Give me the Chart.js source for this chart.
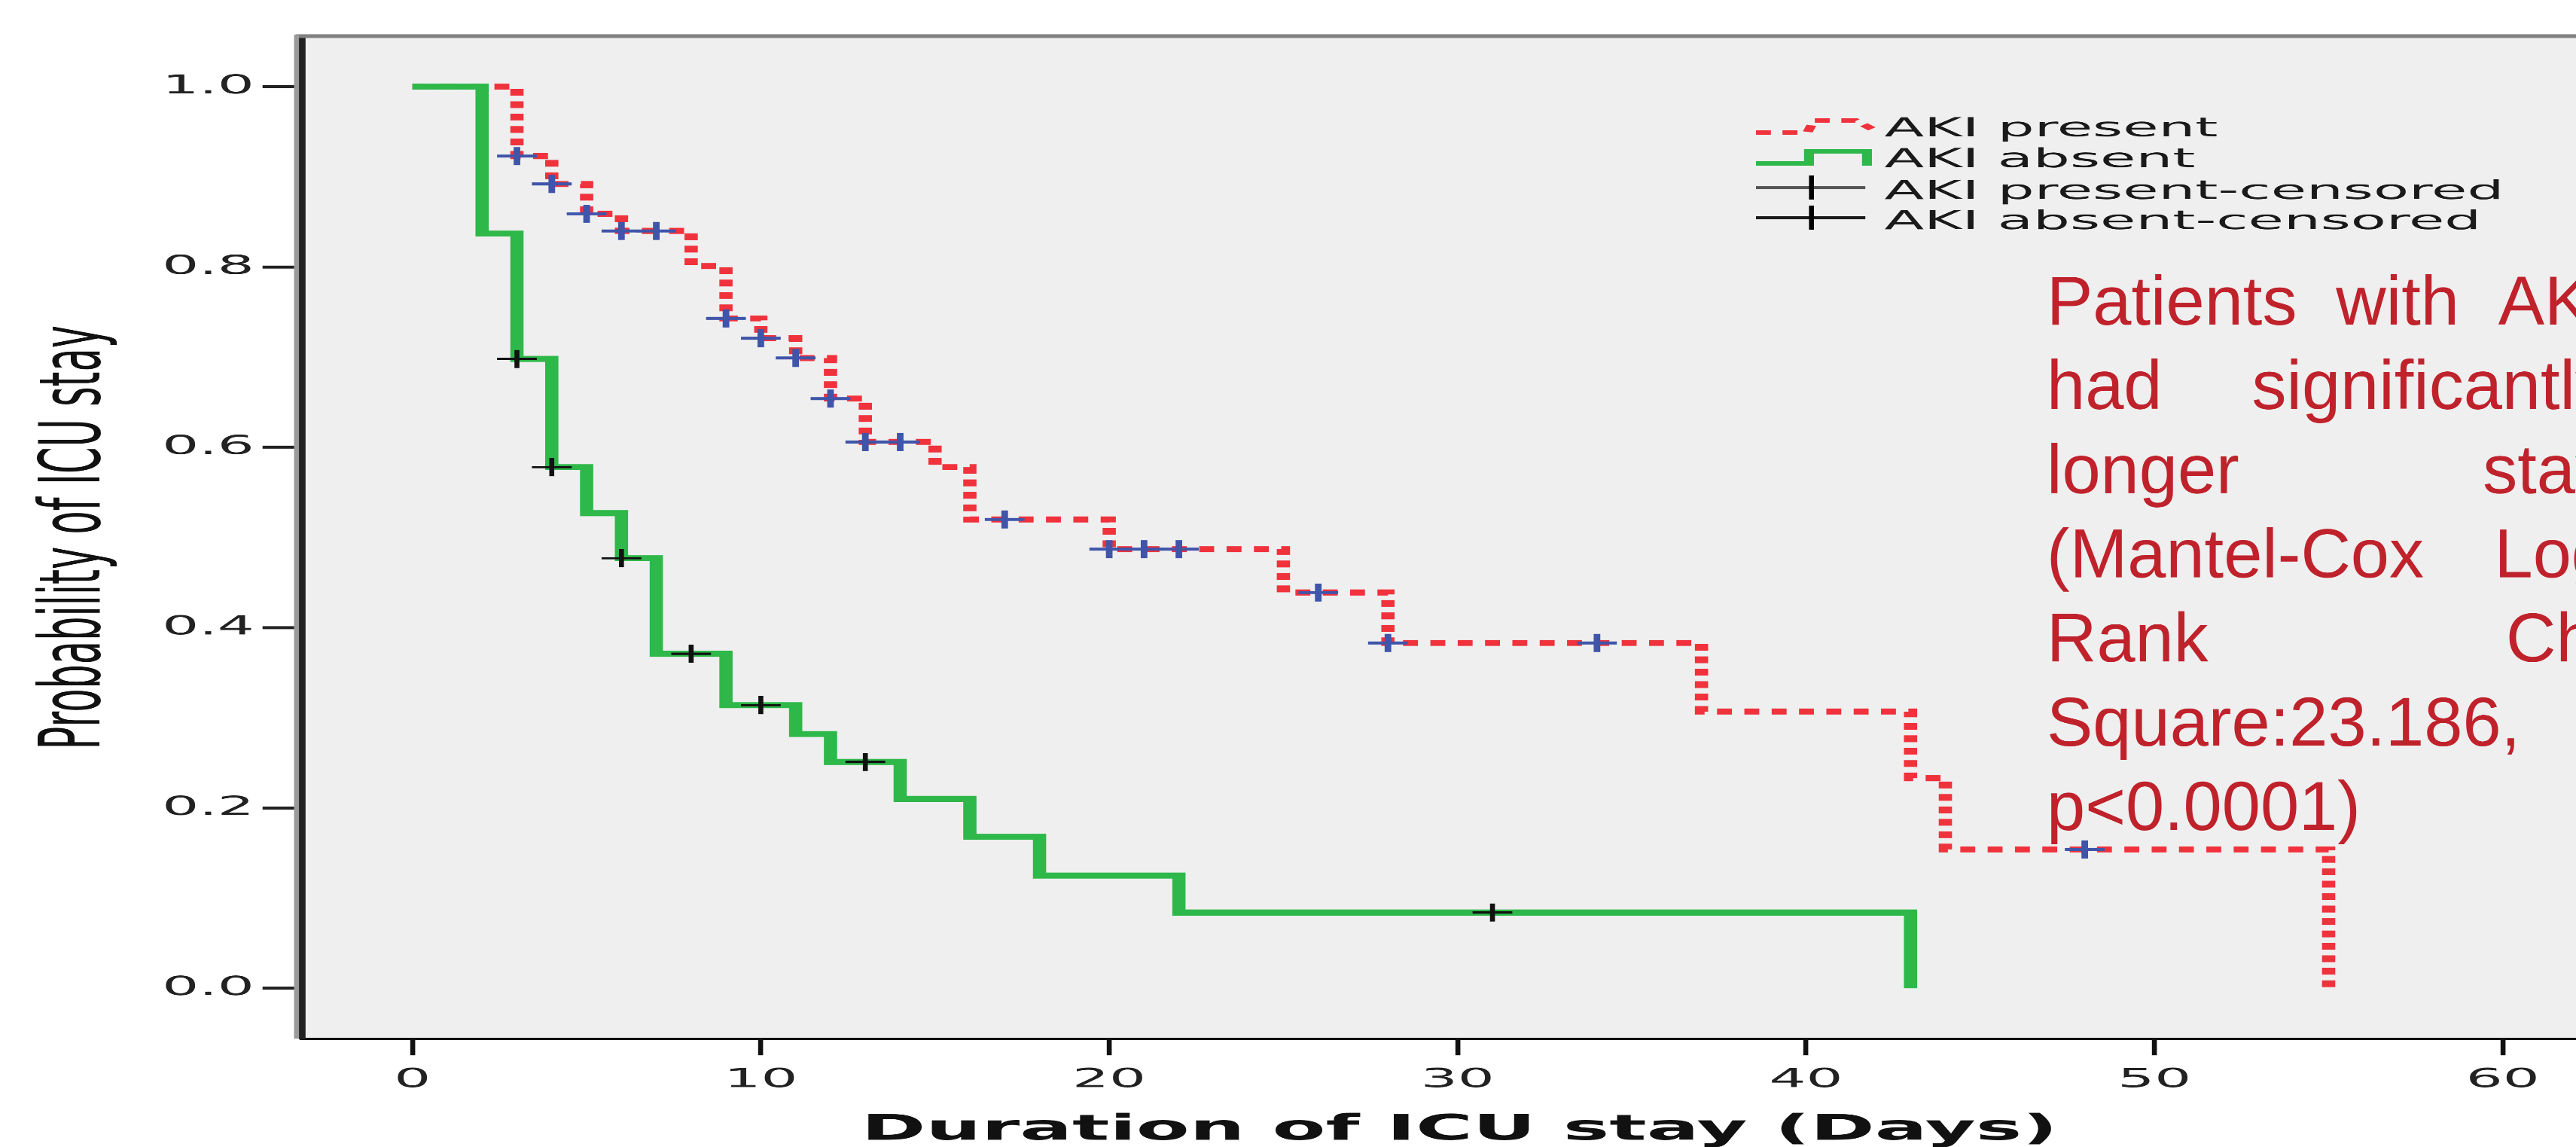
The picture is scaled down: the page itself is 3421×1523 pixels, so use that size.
<!DOCTYPE html>
<html>
<head>
<meta charset="utf-8">
<title>Duration of ICU stay - AKI present vs absent</title>
<script src="https://cdn.jsdelivr.net/npm/chart.js@4.4.1/dist/chart.umd.min.js"></script>
<style>
  html, body { margin: 0; padding: 0; background: #fff; overflow: hidden; }
</style>
</head>
<body>
<canvas id="km" width="1555" height="1523" style="display:block;width:3421px;height:1523px"></canvas>
<script>
// the source figure is stretched sideways, so the chart is drawn narrow and widened by css
const STRETCH = 2.2;

// Kaplan-Meier steps, AKI present (time in days, survival after the step)
const presentTimes = [0, 3, 4, 5, 6, 8, 9, 10, 11, 12, 13, 15, 16, 20, 25, 28, 37, 43, 44, 55];
const presentSurv  = [1.0, 0.923, 0.892, 0.859, 0.840, 0.801, 0.743, 0.721, 0.699, 0.654, 0.606, 0.578, 0.520, 0.487, 0.439, 0.383, 0.307, 0.233, 0.154, 0.0];
const presentCensTimes = [3, 4, 5, 6, 7, 9, 10, 11, 12, 13, 14, 17, 20, 21, 22, 26, 28, 34, 48];
const presentCensSurv  = [0.923, 0.892, 0.859, 0.840, 0.840, 0.743, 0.721, 0.699, 0.654, 0.606, 0.606, 0.520, 0.487, 0.487, 0.487, 0.439, 0.383, 0.383, 0.154];

// AKI absent
const absentTimes = [0, 2, 3, 4, 5, 6, 7, 9, 11, 12, 14, 16, 18, 22, 43];
const absentSurv  = [1.0, 0.837, 0.698, 0.578, 0.527, 0.477, 0.371, 0.314, 0.282, 0.251, 0.210, 0.168, 0.125, 0.084, 0.0];
const absentCensTimes = [3, 4, 6, 8, 10, 13, 31];
const absentCensSurv  = [0.698, 0.578, 0.477, 0.371, 0.314, 0.251, 0.084];

const xTickValues = [0, 10, 20, 30, 40, 50, 60];
const yTickValues = [0.0, 0.2, 0.4, 0.6, 0.8, 1.0];

const xTitle = 'Duration of ICU stay (Days)';
const yTitle = 'Probability of ICU stay';
const legendLabels = ['AKI present', 'AKI absent', 'AKI present-censored', 'AKI absent-censored'];
const noteLines = ['Patients with AKI', 'had significantly', 'longer stay', '(Mantel-Cox Log-', 'Rank Chi-', 'Square:23.186,', 'p<0.0001)'];

const RED = '#f0323c';
const GREEN = '#2eb84a';
const BLUE = '#3f55aa';

const pts = (xs, ys) => xs.map((x, i) => ({ x, y: ys[i] }));

// background, frame, legend, x title and the red note
const decor = {
  id: 'decor',
  beforeDraw(chart) {
    const { ctx, chartArea: a } = chart;
    ctx.save();
    ctx.fillStyle = '#efefef';
    ctx.fillRect(a.left, a.top, chart.width - a.left, a.bottom - a.top);
    ctx.restore();
  },
  afterDraw(chart) {
    const { ctx, chartArea: a } = chart;
    ctx.save();
    // grey frame on top and left
    ctx.strokeStyle = '#808080';
    ctx.lineWidth = 5;
    ctx.beginPath();
    ctx.moveTo(a.left - 4, a.top);
    ctx.lineTo(chart.width, a.top);
    ctx.stroke();
    ctx.strokeStyle = '#9a9a9a';
    ctx.lineWidth = 3;
    ctx.beginPath();
    ctx.moveTo(a.left - 3.5, a.top - 2);
    ctx.lineTo(a.left - 3.5, a.bottom);
    ctx.stroke();

    // x axis title, a bit right of the plot centre as in the source
    ctx.fillStyle = '#111';
    ctx.font = 'bold 47px "DejaVu Sans"';
    ctx.textAlign = 'center';
    ctx.textBaseline = 'alphabetic';
    ctx.fillText(xTitle, 881, 1513);
    ctx.textAlign = 'left';

    // legend
    const lx = 1060, rows = [176, 217, 258, 299];
    ctx.lineCap = 'butt';
    ctx.setLineDash([9, 7]);
    ctx.strokeStyle = RED; ctx.lineWidth = 6;
    ctx.beginPath();
    ctx.moveTo(lx, rows[0]); ctx.lineTo(lx + 31, rows[0]); ctx.lineTo(lx + 35, rows[0] - 16);
    ctx.lineTo(lx + 60, rows[0] - 16); ctx.lineTo(lx + 70, rows[0] - 5);
    ctx.stroke();
    ctx.setLineDash([]);
    ctx.strokeStyle = GREEN;
    ctx.beginPath();
    ctx.moveTo(lx, rows[1]); ctx.lineTo(lx + 32, rows[1]); ctx.lineTo(lx + 32, rows[1] - 16);
    ctx.lineTo(lx + 67, rows[1] - 16); ctx.lineTo(lx + 67, rows[1] + 3);
    ctx.stroke();
    [['#555', rows[2] - 9], ['#1a1a1a', rows[3] - 10]].forEach(([c, y]) => {
      ctx.strokeStyle = c; ctx.lineWidth = 4;
      ctx.beginPath(); ctx.moveTo(lx, y); ctx.lineTo(lx + 66, y); ctx.stroke();
      ctx.strokeStyle = '#000'; ctx.lineWidth = 3;
      ctx.beginPath(); ctx.moveTo(lx + 33.5, y - 16); ctx.lineTo(lx + 33.5, y + 16); ctx.stroke();
    });
    ctx.fillStyle = '#1a1a1a';
    ctx.font = '35px "DejaVu Sans"';
    legendLabels.forEach((t, i) => ctx.fillText(t, 1137.5, [181, 222, 264, 304][i]));

    // justified note, drawn unstretched (coordinates in final pixels)
    ctx.scale(1 / STRETCH, 1);
    ctx.font = '92px "Liberation Sans", Arial, sans-serif';
    ctx.fillStyle = '#c0222c';
    const left = 2718, right = 3466, top = 431, step = 111.8;
    noteLines.forEach((line, i) => {
      const words = line.split(' ');
      const y = top + i * step;
      if (words.length < 2 || i === noteLines.length - 1) {
        ctx.fillText(line, left, y);
        return;
      }
      // trailing hyphen hangs past the right edge
      const widths = words.map((w, k) =>
        ctx.measureText(k === words.length - 1 ? w.replace(/-$/, '') : w).width);
      const gap = (right - left - widths.reduce((s, v) => s + v, 0)) / (words.length - 1);
      let x = left;
      words.forEach((w, k) => { ctx.fillText(w, x, y); x += widths[k] + gap; });
    });
    ctx.restore();
  }
};

new Chart(document.getElementById('km'), {
  type: 'line',
  data: {
    datasets: [
      { label: legendLabels[2], type: 'scatter', data: pts(presentCensTimes, presentCensSurv),
        pointStyle: 'cross', pointRadius: 12, pointBorderWidth: 4, pointBorderColor: BLUE, showLine: false },
      { label: legendLabels[3], type: 'scatter', data: pts(absentCensTimes, absentCensSurv),
        pointStyle: 'cross', pointRadius: 12, pointBorderWidth: 3, pointBorderColor: '#111', showLine: false },
      { label: legendLabels[1], data: pts(absentTimes, absentSurv), stepped: 'before',
        borderColor: GREEN, borderWidth: 8, pointRadius: 0, fill: false },
      { label: legendLabels[0], data: pts(presentTimes, presentSurv), stepped: 'before',
        borderColor: RED, borderWidth: 8, borderDash: [9, 7.5], pointRadius: 0, fill: false }
    ]
  },
  options: {
    responsive: false,
    devicePixelRatio: STRETCH,
    animation: false,
    layout: { autoPadding: false, padding: { top: 48, left: 0, right: 0, bottom: 0 } },
    plugins: { legend: { display: false }, tooltip: { enabled: false } },
    scales: {
      x: {
        type: 'linear',
        min: -3.16,
        max: 62.1,
        afterFit: s => { s.height = 144; s.paddingLeft = 0; s.paddingRight = 0; },
        afterBuildTicks: s => { s.ticks = xTickValues.map(v => ({ value: v })); },
        border: { display: true, color: '#111', width: 3 },
        grid: { display: true, drawOnChartArea: false, drawTicks: true, tickLength: 22, tickWidth: 3, tickColor: '#111' },
        ticks: { font: { family: 'DejaVu Sans', size: 35 }, color: '#222', padding: 12, maxRotation: 0, autoSkip: false,
                 callback: v => String(v) },
        title: { display: false }
      },
      y: {
        type: 'linear',
        min: -0.056,
        max: 1.056,
        afterFit: s => { s.width = 182.5; },
        afterBuildTicks: s => { s.ticks = yTickValues.map(v => ({ value: v })); },
        border: { display: true, color: '#222', width: 4 },
        grid: { display: true, drawOnChartArea: false, drawTicks: true, tickLength: 24, tickWidth: 4, tickColor: '#222' },
        ticks: { font: { family: 'DejaVu Sans', size: 35 }, color: '#222', padding: 5,
                 callback: v => Number(v).toFixed(1) },
        title: { display: true, text: yTitle, color: '#111',
                 font: { family: 'DejaVu Sans', size: 51 }, padding: { top: 16, bottom: 0 } }
      }
    }
  },
  plugins: [decor]
});
</script>
</body>
</html>
